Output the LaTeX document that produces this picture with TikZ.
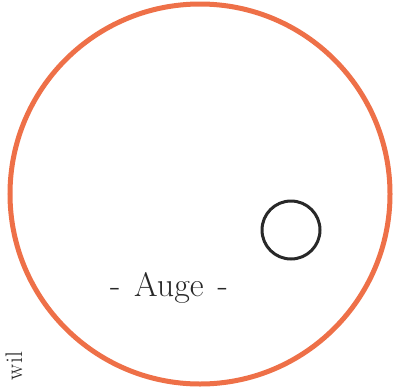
\documentclass[tikz,border=0pt]{standalone}
\usepackage{tikz}
\definecolor{stiftorange}{RGB}{238,112,72}
\definecolor{stiftgrau}{RGB}{40,40,40}

\begin{document}
\begin{tikzpicture}[
    x=1pt,y=-1pt,
    ring/.style={circle,draw=stiftorange,line width=5pt,inner sep=0pt},
    punkt/.style={circle,draw=stiftgrau,line width=3pt,inner sep=0pt},
    schrift/.style={text=stiftgrau,font=\fontsize{34}{36}\selectfont}
  ]
    \useasboundingbox (0,0) rectangle (401,391);
    \node[ring,minimum size=380pt] (auge) at (200,194) {};
    \node[punkt,minimum size=58pt] (kreis) at (291,230) {};
    \node[schrift] (name) at (169,288) {-\hspace{14pt}Auge\hspace{14pt}-};
    \node[schrift,font=\fontsize{24}{26}\selectfont,rotate=90] (rand) at (14,366) {wil};
  \end{tikzpicture}
\end{document}
